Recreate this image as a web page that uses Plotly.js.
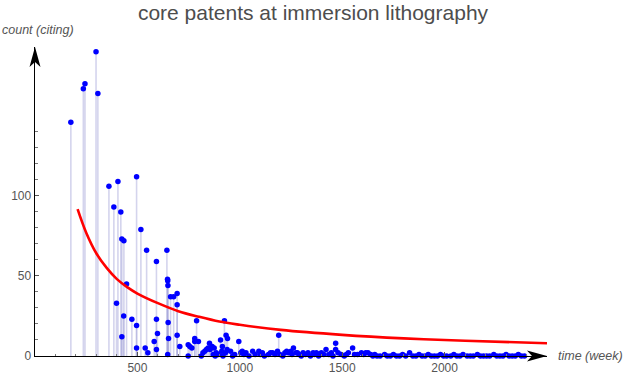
<!DOCTYPE html>
<html>
<head>
<meta charset="utf-8">
<script src="https://cdn.plot.ly/plotly-3.0.1.min.js"></script>
<style>html,body{margin:0;padding:0;background:#fff;}#chart{width:626px;height:376px;}</style>
</head>
<body>
<div id="chart"></div>
<script>
// week of citation (x) and citing count (y)
const weeks = [175,236,244,298,307,361,385,398,405,419,424,424,433,434,447,473,496,496,496,517,538,545,551,582,593,593,593,598,644,647,648,648,649,650,652,662,677,694,694,694,707,748,748,756,766,780,780,789,798,
812,820,829,837,845,852,855,865,870,875,880,885,895,906,912,915,918,925,930,933,938,940,955,965,975,995,1005,1012,1020,1030,1045,1063,1075,1093,1100,1110,1120,1140,1150,1160,1172,1184,1190,1196,1210,1220,1229,1238,1250,1255,1262,1275,1281,1290,1300,1309,1320,1333,1345,1358,1365,1374,1385,1398,1410,1421,1435,1447,1455,1468,1468,1480,1495,1510,1520,1530,1551,1560,1575,1594,1605,1615,1626,1639,1650,1659,1670,1685,1707,1720,1735,1750,1765,1780,1795,1810,1829,1845,1860,1875,1890,1905,1920,1935,1950,1965,1980,1995,2010,2030,2045,2060,2075,2090,2110,2125,2140,2160,2175,2190,2205,2220,2240,2255,2270,2285,2300,2315,2330,2345,2360,2375,2390];
const counts = [146,167,170,190,164,106,93,33,109,90,12,73,25,72,45,23,112,19,5,79,5,66,2,9,59,23,4,14,66,48,47,1,44,21,11,37,37,39,32,13,6,7,0,6,5,11,9,22,9,
0,2,3,4,5,8,4,6,1,5,0,2,1,10,3,6,0,22,2,13,4,11,3,0,1,9,2,3,1,2,0,3,1,3,1,2,0,1,2,2,1,3,13,1,0,2,3,2,3,1,5,2,2,1,0,2,1,2,0,2,1,2,0,2,1,4,1,2,0,8,4,2,1,0,1,2,5,1,1,2,1,2,2,1,0,1,0,0,1,0,0,1,0,0,1,0,2,0,0,1,0,0,1,0,0,0,1,0,0,0,1,0,0,1,0,0,0,1,0,0,0,0,1,0,0,0,1,0,0,0,1,0,0,0,1];

// fitted decay curve
const fitWeeks = [208,250,300,350,400,450,500,600,700,800,900,1000,1200,1500,1800,2100,2500];
const fitCounts = [91.7,77,64,55,48,43,39,33,28,24.5,21.5,19.5,16.3,13.2,11,9.5,8];

const xTickVals = [500,1000,1500,2000];
const xTickText = ['500','1000','1500','2000'];
const yTickVals = [0,50,100];
const yTickText = ['0','50','100'];
const yMinorVals = [10,20,30,40,60,70,80,90,110,120,130,140];
const xMinorVals = [100,200,300,400,600,700,800,900,1100,1200,1300,1400,1600,1700,1800,1900,2100,2200,2300,2400];

const gray = '#555555';
const font = 'Liberation Sans, Arial, sans-serif';

const traces = [
  {
    x: weeks, y: counts, type: 'scatter', mode: 'markers',
    marker: {color: '#0000ff', size: 5.5},
    error_y: {type: 'data', symmetric: false, array: counts.map(() => 0), arrayminus: counts,
              width: 0, thickness: 1.6, color: 'rgba(160,160,215,0.45)'},
    cliponaxis: false, hoverinfo: 'skip'
  },
  {
    x: fitWeeks, y: fitCounts, type: 'scatter', mode: 'lines',
    line: {color: '#ff0000', width: 2.6, shape: 'spline'},
    cliponaxis: false, hoverinfo: 'skip'
  }
];

const layout = {
  width: 626, height: 376,
  margin: {l: 35, r: 78.5, t: 47, b: 20},
  paper_bgcolor: '#ffffff', plot_bgcolor: '#ffffff',
  showlegend: false,
  title: {text: 'core patents at immersion lithography', x: 0.5, xref: 'container', xanchor: 'center',
          y: 0.966, yref: 'container', yanchor: 'middle',
          font: {family: font, size: 21, color: '#4d4d4d'}},
  xaxis: {
    range: [0, 2500], showgrid: false, zeroline: false,
    showline: true, linecolor: '#000', linewidth: 1.4,
    tickmode: 'array', tickvals: xTickVals, ticktext: xTickText,
    ticks: 'inside', ticklen: 4, tickcolor: '#555', tickwidth: 1,
    minor: {tickmode: 'array', tickvals: xMinorVals, ticks: 'inside', ticklen: 2.5, tickcolor: '#777', showgrid: false},
    tickfont: {family: font, size: 12, color: gray}
  },
  yaxis: {
    range: [0, 193], showgrid: false, zeroline: false,
    showline: true, linecolor: '#000', linewidth: 1.4,
    tickmode: 'array', tickvals: yTickVals, ticktext: yTickText,
    ticks: 'inside', ticklen: 4, tickcolor: '#555', tickwidth: 1,
    minor: {tickmode: 'array', tickvals: yMinorVals, ticks: 'inside', ticklen: 2.5, tickcolor: '#777', showgrid: false},
    tickfont: {family: font, size: 12, color: gray}
  },
  shapes: [
    {type: 'path', xref: 'paper', yref: 'paper', xsizemode: 'pixel', ysizemode: 'pixel', xanchor: 1, yanchor: 0,
     path: 'M0,0 L-20,5.5 L-15,0 L-20,-5.5 Z', fillcolor: '#000', line: {width: 0}},
    {type: 'path', xref: 'paper', yref: 'paper', xsizemode: 'pixel', ysizemode: 'pixel', xanchor: 0, yanchor: 1,
     path: 'M0,0 L5.5,-20 L0,-15 L-5.5,-20 Z', fillcolor: '#000', line: {width: 0}}
  ],
  annotations: [
    {text: 'count (citing)', xref: 'paper', yref: 'paper', x: 0, y: 1, xshift: -35, yshift: 17,
     xanchor: 'left', yanchor: 'middle', showarrow: false,
     font: {family: font, size: 12.5, color: gray, style: 'italic'}},
    {text: 'time (week)', xref: 'paper', yref: 'paper', x: 1, y: 0, xshift: 9, yshift: 0,
     xanchor: 'left', yanchor: 'middle', showarrow: false,
     font: {family: font, size: 12.5, color: gray, style: 'italic'}}
  ]
};

Plotly.newPlot('chart', traces, layout, {staticPlot: true, displayModeBar: false});
</script>
</body>
</html>
